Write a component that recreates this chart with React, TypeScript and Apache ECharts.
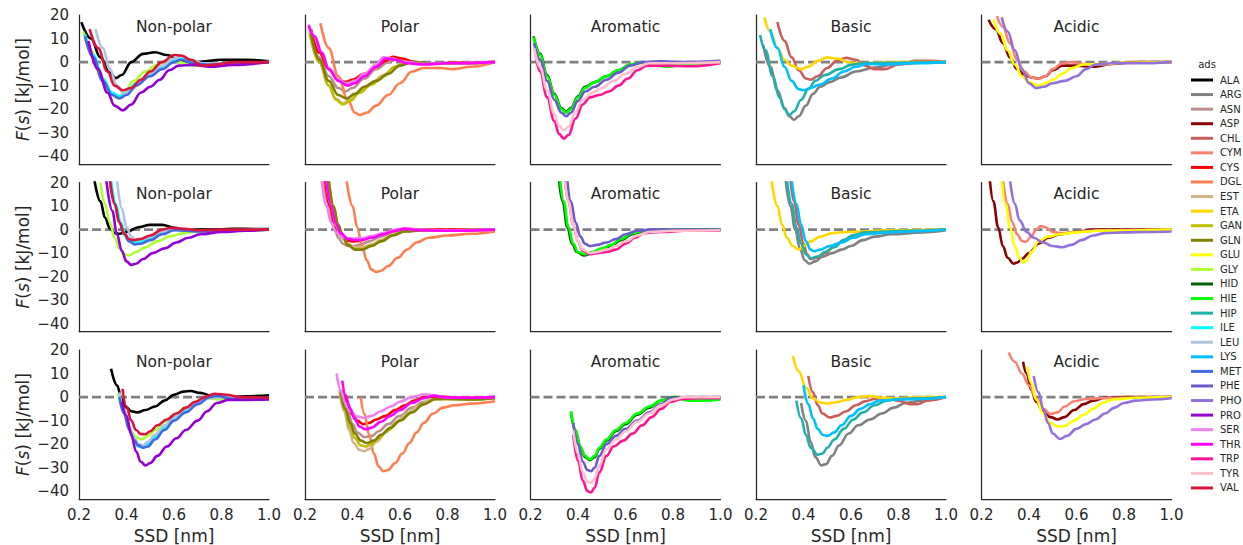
import React, { useEffect, useRef } from 'react';
import * as echarts from 'echarts';

const GROUPS = ['Non-polar', 'Polar', 'Aromatic', 'Basic', 'Acidic'];
const RESIDUES = ['ALA', 'ARG', 'ASN', 'ASP', 'CHL', 'CYM', 'CYS', 'DGL', 'EST', 'ETA', 'GAN', 'GLN', 'GLU', 'GLY', 'HID', 'HIE', 'HIP', 'ILE', 'LEU', 'LYS', 'MET', 'PHE', 'PHO', 'PRO', 'SER', 'THR', 'TRP', 'TYR', 'VAL'];
const COLORS = ['#000000', '#808080', '#bc8f8f', '#8b0000', '#cd5c5c', '#fa8072', '#ff0000', '#ff7f50', '#d2b48c', '#ffd700', '#bfbf00', '#808000', '#ffff00', '#adff2f', '#006400', '#00ff00', '#20b2aa', '#00ffff', '#b0c4de', '#00bfff', '#4169e1', '#6a5acd', '#9370db', '#9400d3', '#ee82ee', '#ff00ff', '#ff1493', '#ffc0cb', '#dc143c'];
// column (group) of each residue
const GROUP_OF = [0, 3, 1, 4, 3, 4, 1, 1, 1, 3, 1, 1, 4, 0, 2, 2, 3, 0, 0, 3, 0, 2, 4, 0, 1, 1, 2, 2, 0];
const X_TICKS = [0.2, 0.4, 0.6, 0.8, 1.0];
const Y_RANGE = [-43.3, 20];

// each residue: [row1, row2, row3] of [SSD nm, F kJ/mol]
const ALA = [
  [[0.21, 17], [0.25, 10], [0.29, 2], [0.33, -4.5], [0.355, -6.8], [0.38, -5.5], [0.42, 0], [0.47, 3.5], [0.52, 4.2], [0.57, 3], [0.63, 0.3], [0.7, 0], [0.8, 1], [0.9, 1], [1.0, 0.3]],
  [[0.265, 21], [0.29, 12], [0.31, 5], [0.33, 0.5], [0.35, -1.5], [0.37, -1.8], [0.4, -1], [0.45, 1], [0.5, 2], [0.55, 2], [0.6, 0.8], [0.65, 0], [0.75, 0], [0.85, 0.3], [1.0, 0.2]],
  [[0.335, 12], [0.36, 5], [0.38, -1], [0.4, -4.5], [0.42, -6], [0.445, -6.5], [0.48, -5.5], [0.52, -4], [0.56, -1.5], [0.6, 1], [0.64, 2.3], [0.67, 2.6], [0.71, 1.8], [0.76, 0.5], [0.82, -0.3], [0.9, 0.3], [1.0, 0.8]],
];
const ARG = [
  [[0.23, 7.5], [0.26, -2], [0.29, -12], [0.32, -19.5], [0.34, -23], [0.36, -24.5], [0.38, -23], [0.41, -18.5], [0.44, -13.5], [0.47, -10.5], [0.51, -8.5], [0.56, -6.5], [0.62, -4], [0.7, -2.3], [0.78, -1], [0.9, -0.3], [1.0, 0]],
  [[0.325, 21], [0.345, 10], [0.365, 0], [0.385, -8], [0.405, -13], [0.425, -14.5], [0.45, -13.5], [0.48, -11.5], [0.52, -10], [0.56, -8.5], [0.6, -7], [0.65, -4.5], [0.7, -3], [0.77, -2], [0.9, -1.2], [1.0, -0.3]],
  [[0.39, -2.5], [0.41, -10], [0.43, -19], [0.45, -25.5], [0.475, -29], [0.495, -28.5], [0.52, -25], [0.55, -20.5], [0.59, -15.5], [0.63, -12], [0.68, -9.5], [0.73, -7], [0.78, -4.5], [0.83, -2.5], [0.9, -1.5], [1.0, 0]],
];
const ASN = [
  [[0.22, 13], [0.26, 2], [0.3, -6], [0.34, -11], [0.37, -12.5], [0.4, -11], [0.45, -7], [0.5, -3], [0.55, 0], [0.58, 1], [0.63, 0.5], [0.7, -0.5], [0.85, -0.3], [1.0, 0]],
  [[0.28, 21], [0.3, 10], [0.32, 2], [0.34, -3.5], [0.36, -6], [0.38, -7], [0.4, -7], [0.43, -6.5], [0.47, -5], [0.52, -3], [0.57, -1], [0.62, 0], [0.7, -0.3], [1.0, 0]],
  [[0.36, 0], [0.38, -6], [0.4, -11.5], [0.42, -15], [0.45, -17], [0.48, -16.5], [0.51, -14.5], [0.55, -11.5], [0.6, -8], [0.65, -4.5], [0.7, -2], [0.75, -0.3], [0.85, -0.5], [1.0, 0]],
];
const ASP = [
  [[0.23, 18], [0.26, 14], [0.29, 8], [0.32, 2], [0.35, -3], [0.38, -5.5], [0.41, -6.5], [0.44, -7], [0.47, -6], [0.5, -3.5], [0.54, -1.5], [0.6, -1.5], [0.67, -2], [0.75, -0.8], [0.85, 0], [1.0, 0]],
  [[0.235, 21], [0.25, 12], [0.27, 1], [0.29, -7], [0.31, -12], [0.335, -14.5], [0.35, -14], [0.37, -12.5], [0.4, -10], [0.44, -6], [0.48, -3.5], [0.53, -2], [0.6, -1], [0.67, 0], [0.8, 0], [1.0, 0]],
  [[0.375, 15], [0.39, 10], [0.41, 3], [0.43, -2], [0.46, -6], [0.49, -8.5], [0.52, -9.5], [0.55, -8.5], [0.59, -5.5], [0.63, -3], [0.67, -1.5], [0.72, -0.3], [0.8, 0], [1.0, 0]],
];
const CHL = [
  [[0.29, 17], [0.32, 9], [0.35, 2], [0.38, -3.5], [0.41, -7], [0.43, -7.5], [0.46, -6], [0.5, -2.5], [0.54, 0.5], [0.58, 1.8], [0.62, 1], [0.66, -1.5], [0.7, -3], [0.74, -3], [0.8, -1], [0.87, 0.5], [0.93, 0.5], [1.0, 0]],
  [[0.345, 21], [0.36, 12], [0.38, 2], [0.4, -6], [0.415, -10.5], [0.43, -12.5], [0.455, -12], [0.49, -10], [0.53, -7], [0.57, -4.5], [0.61, -2.5], [0.66, -1.2], [0.75, -1], [0.85, -0.5], [1.0, 0]],
  [[0.42, 9], [0.44, 2], [0.46, -3.5], [0.48, -7], [0.51, -8.7], [0.54, -8], [0.58, -6], [0.62, -3.5], [0.66, -1.8], [0.7, -0.8], [0.75, -0.5], [0.8, -1.5], [0.85, -3], [0.88, -3], [0.92, -1.5], [1.0, 0]],
];
const CYM = [
  [[0.265, 19.5], [0.29, 15], [0.32, 8], [0.35, 1], [0.38, -4], [0.41, -6.5], [0.44, -7], [0.47, -6], [0.5, -3], [0.54, -0.5], [0.58, 0], [0.63, -0.8], [0.7, -1], [0.8, -0.3], [1.0, 0]],
  [[0.29, 21], [0.31, 11], [0.33, 3], [0.35, -2], [0.37, -4.8], [0.385, -5.3], [0.41, -3], [0.43, 0], [0.45, 1.5], [0.47, 1], [0.5, -1], [0.54, -1.5], [0.6, -1], [0.7, -0.3], [1.0, 0]],
  [[0.315, 19], [0.34, 15], [0.37, 10], [0.4, 5], [0.43, -0.5], [0.46, -5], [0.49, -7.2], [0.52, -6.5], [0.55, -4], [0.59, -1.8], [0.64, -0.8], [0.7, -0.5], [0.8, -0.3], [1.0, 0]],
];
const CYS = [
  [[0.225, 14], [0.26, 4], [0.3, -3], [0.34, -7.5], [0.37, -8.5], [0.4, -7.5], [0.45, -5], [0.5, -2], [0.54, 0.5], [0.57, 2.2], [0.61, 1.5], [0.66, 0], [0.72, -0.5], [0.85, -0.3], [1.0, 0]],
  [[0.285, 21], [0.305, 10], [0.325, 2], [0.345, -2], [0.37, -4.5], [0.4, -5], [0.43, -4.8], [0.47, -3.5], [0.52, -2], [0.57, -0.5], [0.62, 0.3], [0.7, 0], [1.0, 0]],
  [[0.36, 3], [0.38, -3], [0.4, -7.5], [0.42, -10], [0.445, -11.5], [0.47, -11], [0.5, -9.5], [0.54, -8], [0.58, -5.5], [0.62, -3.5], [0.66, -1.5], [0.7, 0], [0.75, 0.3], [0.85, -0.3], [1.0, 0]],
];
const DGL = [
  [[0.265, 16.5], [0.3, 6], [0.34, -6], [0.38, -16], [0.41, -21.5], [0.43, -22.5], [0.46, -21.5], [0.5, -18.5], [0.55, -14], [0.6, -9], [0.65, -4], [0.7, -2.5], [0.77, -2.5], [0.82, -3], [0.9, -2], [1.0, 0]],
  [[0.375, 21], [0.4, 10], [0.42, 1], [0.44, -7], [0.46, -13], [0.48, -17], [0.5, -18], [0.52, -17.5], [0.55, -15.5], [0.59, -12], [0.63, -8.5], [0.67, -5.5], [0.72, -3.5], [0.8, -2.5], [0.9, -1.8], [1.0, -0.8]],
  [[0.435, 0], [0.45, -7], [0.47, -16], [0.49, -24], [0.51, -29.5], [0.53, -31.5], [0.55, -31], [0.58, -28], [0.61, -24], [0.64, -19.5], [0.67, -15], [0.7, -11], [0.74, -7], [0.78, -4.5], [0.83, -3.5], [0.9, -2.8], [1.0, -1.8]],
];
const EST = [
  [[0.22, 12], [0.26, 0], [0.3, -10], [0.33, -15.5], [0.36, -17.5], [0.39, -16], [0.43, -12.5], [0.48, -9], [0.53, -5.5], [0.58, -2], [0.62, 0], [0.7, -0.5], [0.8, -0.5], [1.0, 0]],
  [[0.29, 21], [0.31, 10], [0.33, 2], [0.35, -3], [0.38, -6], [0.41, -7.5], [0.44, -7.5], [0.48, -6.3], [0.52, -4.5], [0.57, -2.2], [0.62, -0.6], [0.7, -0.3], [0.8, -0.3], [1.0, 0]],
  [[0.345, 3], [0.365, -6], [0.385, -14], [0.405, -19.5], [0.43, -22.5], [0.45, -23], [0.47, -22], [0.5, -19], [0.54, -15], [0.58, -11], [0.63, -7], [0.68, -3.5], [0.73, -1], [0.8, -0.8], [0.9, -1], [1.0, -0.5]],
];
const ETA = [
  [[0.235, 19], [0.26, 13], [0.29, 6], [0.32, 1], [0.35, -1.5], [0.39, -3], [0.42, -2], [0.46, 0.5], [0.5, 2], [0.54, 1.5], [0.6, -0.3], [0.66, -0.5], [0.75, 0], [0.85, 0], [1.0, 0]],
  [[0.265, 21], [0.29, 10], [0.31, 2], [0.33, -3.5], [0.355, -7], [0.38, -8.5], [0.4, -7], [0.43, -5], [0.47, -3], [0.52, -1.5], [0.58, -1], [0.65, -0.8], [0.75, -0.3], [1.0, 0]],
  [[0.355, 17.5], [0.38, 11], [0.41, 4], [0.44, -0.5], [0.47, -2.3], [0.5, -2.7], [0.54, -2.2], [0.58, -1.2], [0.63, 0], [0.68, 0.4], [0.73, -0.3], [0.8, -0.5], [0.9, 0], [1.0, 0]],
];
const GAN = [
  [[0.22, 12.5], [0.26, 0], [0.3, -10], [0.33, -16], [0.36, -18], [0.39, -16.5], [0.43, -13], [0.48, -9.5], [0.53, -6], [0.58, -2], [0.62, 0], [0.7, -0.5], [0.8, -0.5], [1.0, 0]],
  [[0.3, 21], [0.32, 10], [0.34, 2], [0.36, -3], [0.38, -6.3], [0.41, -8.2], [0.44, -8.2], [0.48, -6.8], [0.52, -4.8], [0.57, -2.3], [0.62, -0.6], [0.7, -0.3], [0.8, -0.3], [1.0, 0]],
  [[0.35, 2], [0.37, -6], [0.39, -13], [0.41, -17.5], [0.435, -20.5], [0.455, -21], [0.48, -20], [0.51, -17.5], [0.55, -14], [0.6, -10], [0.65, -6.5], [0.7, -3], [0.75, -0.8], [0.8, -0.8], [0.9, -1], [1.0, -0.5]],
];
const GLN = [
  [[0.225, 12], [0.26, 1], [0.3, -8], [0.34, -14], [0.375, -15.5], [0.41, -13.5], [0.45, -10.5], [0.5, -8], [0.55, -5], [0.6, -1.5], [0.65, 0], [0.72, -0.5], [0.85, -0.5], [1.0, 0]],
  [[0.3, 21], [0.32, 10], [0.34, 2], [0.36, -3], [0.38, -6.5], [0.41, -8.5], [0.44, -8.5], [0.48, -7], [0.52, -5], [0.57, -2.5], [0.62, -0.8], [0.7, -0.3], [0.8, -0.3], [1.0, 0]],
  [[0.35, 2], [0.37, -5], [0.39, -11], [0.41, -15.5], [0.435, -18.5], [0.46, -19.5], [0.49, -18.5], [0.52, -16], [0.56, -13], [0.6, -10], [0.65, -6.5], [0.7, -3], [0.75, -0.8], [0.8, -0.8], [0.9, -1], [1.0, -0.5]],
];
const GLU = [
  [[0.25, 18], [0.28, 12], [0.31, 5], [0.34, -1], [0.37, -6], [0.4, -8.5], [0.44, -10], [0.47, -9], [0.5, -7.5], [0.54, -5], [0.58, -2.5], [0.63, -1], [0.7, -0.8], [0.8, -0.3], [1.0, 0]],
  [[0.285, 21], [0.3, 11], [0.32, 1], [0.34, -7], [0.36, -12], [0.375, -14], [0.39, -13], [0.41, -9.5], [0.44, -5], [0.48, -3], [0.53, -2], [0.6, -1.2], [0.7, -0.5], [1.0, 0]],
  [[0.393, 13], [0.41, 6], [0.43, -1], [0.46, -7], [0.49, -11], [0.52, -12.5], [0.55, -12.3], [0.59, -10], [0.63, -7.5], [0.67, -5], [0.71, -2.5], [0.75, -1], [0.85, -0.3], [1.0, 0]],
];
const GLY = [
  [[0.218, 13], [0.25, 5], [0.29, -6], [0.33, -13], [0.36, -15], [0.39, -13], [0.43, -8], [0.48, -4], [0.53, -1], [0.57, 0.5], [0.62, 0], [0.68, -1.5], [0.75, -1.5], [0.85, -0.5], [1.0, 0]],
  [[0.29, 20], [0.31, 11], [0.33, 3], [0.35, -3.5], [0.37, -8], [0.39, -10.5], [0.41, -11], [0.44, -9.5], [0.48, -7.5], [0.53, -5], [0.58, -3], [0.64, -1.5], [0.7, -0.8], [0.8, -0.5], [1.0, 0]],
  [[0.365, 1.5], [0.38, -4], [0.4, -10], [0.42, -14.5], [0.44, -17], [0.465, -18], [0.49, -16.5], [0.52, -14], [0.56, -10.5], [0.6, -7.5], [0.65, -4.5], [0.7, -2], [0.74, -0.5], [0.8, -1], [0.9, -1], [1.0, -0.8]],
];
const HID = [
  [[0.213, 11], [0.24, 3.5], [0.27, -5.5], [0.3, -13.5], [0.33, -19.5], [0.35, -21], [0.37, -19.5], [0.4, -14.5], [0.43, -10.5], [0.47, -8.5], [0.52, -6], [0.57, -3.5], [0.62, -1.2], [0.67, -0.3], [0.75, -1], [0.85, -0.8], [1.0, 0]],
  [[0.32, 21], [0.335, 12], [0.355, 1], [0.375, -6], [0.395, -9.5], [0.425, -11], [0.46, -10], [0.5, -8.5], [0.54, -7], [0.58, -4.5], [0.63, -2], [0.68, -0.5], [0.8, 0], [1.0, 0]],
  [[0.37, -6.5], [0.39, -14.5], [0.41, -21.5], [0.43, -25.5], [0.45, -26.8], [0.47, -25.5], [0.49, -22], [0.52, -18.5], [0.56, -14.5], [0.6, -11.5], [0.65, -7.5], [0.7, -4.5], [0.75, -1.5], [0.8, 0], [0.9, -0.5], [1.0, -0.5]],
];
const HIE = [
  [[0.213, 10.5], [0.24, 3], [0.27, -6], [0.3, -14], [0.33, -20], [0.35, -21.5], [0.37, -20], [0.4, -15], [0.43, -11], [0.47, -8.5], [0.52, -6], [0.57, -3.5], [0.62, -1], [0.67, 0], [0.72, -1], [0.77, -2], [0.85, -1], [1.0, 0]],
  [[0.325, 21], [0.34, 12], [0.36, 1], [0.38, -6], [0.4, -9.5], [0.43, -10.5], [0.46, -9.5], [0.5, -8], [0.54, -6.5], [0.58, -4], [0.63, -1.5], [0.68, -0.3], [0.8, 0], [1.0, 0]],
  [[0.37, -6], [0.39, -14], [0.41, -21], [0.43, -25], [0.45, -26.5], [0.47, -25], [0.49, -21.5], [0.52, -18], [0.56, -14], [0.6, -11], [0.65, -7], [0.7, -4], [0.75, -1.5], [0.8, -0.3], [0.87, -1.5], [0.93, -1.5], [1.0, -1]],
];
const HIP = [
  [[0.217, 11.5], [0.24, 5], [0.27, -6], [0.3, -15], [0.32, -20], [0.34, -22.5], [0.36, -21], [0.39, -16], [0.42, -11.5], [0.45, -8], [0.49, -5.5], [0.55, -3], [0.6, -1.2], [0.65, -0.5], [0.75, -0.3], [1.0, 0]],
  [[0.33, 21], [0.35, 11], [0.37, 1], [0.39, -6], [0.41, -10.5], [0.43, -12.2], [0.46, -11.5], [0.49, -9.5], [0.53, -7.5], [0.57, -4.5], [0.61, -2.3], [0.66, -1.2], [0.75, -0.8], [0.85, -0.5], [1.0, 0]],
  [[0.37, -1.5], [0.39, -9], [0.41, -16], [0.43, -21.5], [0.46, -24.5], [0.48, -24], [0.5, -21.5], [0.53, -18], [0.57, -13.5], [0.61, -9.5], [0.65, -6.5], [0.7, -3.5], [0.75, -1.5], [0.8, -0.8], [0.9, -0.5], [1.0, 0]],
];
const ILE = [
  [[0.225, 12], [0.26, 3], [0.3, -7], [0.34, -13], [0.37, -14.5], [0.4, -13], [0.44, -9], [0.5, -5.5], [0.55, -2.5], [0.6, 1], [0.63, 1.5], [0.68, 0], [0.75, -1], [0.85, -0.5], [1.0, 0]],
  [[0.335, 21], [0.355, 11], [0.375, 3], [0.395, -2], [0.415, -4.5], [0.435, -5.5], [0.46, -5], [0.5, -3.5], [0.55, -1.2], [0.6, 0.3], [0.65, 0], [0.7, -0.5], [0.8, -0.3], [1.0, 0]],
  [[0.37, 1], [0.39, -6], [0.41, -13], [0.43, -18], [0.45, -21], [0.47, -21.5], [0.49, -20], [0.52, -17], [0.56, -13], [0.6, -9], [0.65, -5.5], [0.7, -2.5], [0.75, 0], [0.78, 0.5], [0.85, -0.5], [1.0, -0.5]],
];
const LEU = [
  [[0.27, 14], [0.3, 6], [0.33, -3], [0.36, -10], [0.39, -13.5], [0.42, -12], [0.46, -8], [0.5, -5], [0.55, -1.5], [0.6, 1.5], [0.635, 2.5], [0.67, 1], [0.72, -0.5], [0.8, -0.5], [1.0, 0]],
  [[0.36, 21], [0.38, 9], [0.4, 1], [0.42, -3], [0.44, -4.5], [0.47, -4], [0.5, -3], [0.55, -0.8], [0.6, 0.5], [0.65, 0.2], [0.7, -0.3], [0.8, -0.3], [1.0, 0]],
  [[0.37, 2], [0.39, -5], [0.41, -12], [0.43, -17], [0.45, -20], [0.47, -20.5], [0.49, -19], [0.52, -16], [0.56, -12], [0.6, -8.5], [0.65, -5], [0.7, -2.5], [0.75, -0.5], [0.8, 0], [0.9, -0.5], [1.0, -0.5]],
];
const LYS = [
  [[0.26, 14], [0.29, 6], [0.32, -2], [0.35, -8], [0.38, -11.5], [0.4, -12], [0.43, -11], [0.47, -9.5], [0.52, -7], [0.57, -4], [0.62, -2], [0.67, -0.8], [0.75, -1], [0.85, -0.5], [1.0, 0]],
  [[0.35, 21], [0.37, 11], [0.39, 2], [0.41, -5], [0.43, -8.5], [0.445, -9.2], [0.47, -8.5], [0.51, -7], [0.56, -5.5], [0.61, -3.5], [0.66, -2], [0.72, -1.5], [0.85, -0.8], [1.0, 0]],
  [[0.4, 5], [0.42, -3], [0.44, -9], [0.46, -13.5], [0.48, -16], [0.5, -16.5], [0.53, -15], [0.56, -12], [0.6, -8], [0.64, -5], [0.68, -3], [0.72, -1.5], [0.8, -1], [0.9, -0.8], [1.0, 0]],
];
const MET = [
  [[0.225, 11], [0.26, 2], [0.3, -8], [0.34, -14], [0.37, -15.5], [0.4, -14], [0.44, -10], [0.5, -6], [0.55, -3], [0.6, 0], [0.63, 1], [0.68, -0.5], [0.75, -1.2], [0.85, -0.5], [1.0, 0]],
  [[0.33, 21], [0.35, 11], [0.37, 3], [0.39, -2], [0.41, -5], [0.435, -6.3], [0.46, -6], [0.5, -4.5], [0.55, -2], [0.6, -0.3], [0.65, -0.5], [0.7, -0.8], [0.8, -0.5], [1.0, 0]],
  [[0.37, 0], [0.39, -7], [0.41, -13.5], [0.43, -18], [0.45, -20.5], [0.47, -21.5], [0.49, -21], [0.52, -18], [0.56, -14], [0.6, -10], [0.65, -6.5], [0.7, -3], [0.75, 0], [0.78, 0.5], [0.85, -0.8], [1.0, -0.8]],
];
const PHE = [
  [[0.215, 8], [0.24, 1], [0.27, -8], [0.3, -16], [0.33, -21.5], [0.35, -23], [0.37, -21.5], [0.4, -16.5], [0.43, -12.5], [0.47, -10.5], [0.52, -7.5], [0.57, -4.5], [0.62, -1.5], [0.67, 0], [0.75, 0.3], [0.85, 0], [1.0, 0.5]],
  [[0.355, 21], [0.37, 12], [0.39, 3], [0.41, -3], [0.43, -6], [0.45, -7], [0.48, -6.5], [0.52, -5.5], [0.56, -4], [0.6, -2], [0.65, -0.5], [0.7, 0], [0.8, 0], [1.0, 0]],
  [[0.38, -11], [0.4, -20], [0.42, -27.5], [0.44, -31], [0.455, -31.5], [0.47, -30], [0.49, -25], [0.52, -20], [0.56, -16.5], [0.6, -13.5], [0.65, -10], [0.7, -6.5], [0.75, -3], [0.79, -0.5], [0.85, 0], [1.0, 0]],
];
const PHO = [
  [[0.285, 19], [0.31, 13], [0.34, 5], [0.37, -3], [0.4, -9], [0.43, -11], [0.46, -10.5], [0.5, -9], [0.55, -8], [0.6, -6], [0.64, -3], [0.68, -1], [0.75, -0.5], [0.85, -0.5], [1.0, 0]],
  [[0.32, 21], [0.34, 11], [0.36, 4], [0.39, -1], [0.42, -3.5], [0.46, -5.5], [0.5, -7], [0.54, -7.5], [0.58, -6.5], [0.62, -4.5], [0.67, -2.5], [0.72, -1.5], [0.8, -1.2], [0.9, -1], [1.0, -0.8]],
  [[0.42, 9], [0.44, 2], [0.46, -5], [0.48, -11], [0.5, -15.5], [0.53, -17.8], [0.56, -16.5], [0.6, -13.5], [0.64, -11.5], [0.68, -9.5], [0.72, -7], [0.76, -4.5], [0.8, -2.5], [0.85, -1.5], [0.92, -1], [1.0, -0.5]],
];
const PRO = [
  [[0.24, 9], [0.28, -3], [0.32, -13], [0.35, -18.5], [0.385, -20.5], [0.42, -18], [0.46, -13], [0.5, -10.5], [0.54, -7.5], [0.58, -3.5], [0.62, -1.5], [0.68, -1.2], [0.75, -2], [0.85, -1.2], [1.0, 0]],
  [[0.315, 21], [0.34, 8], [0.36, -2], [0.38, -9], [0.4, -13.5], [0.42, -15], [0.44, -14.5], [0.47, -12.5], [0.51, -10], [0.56, -8], [0.61, -5.5], [0.66, -3.5], [0.71, -2], [0.8, -1], [0.9, -0.5], [1.0, 0]],
  [[0.38, -2], [0.4, -8], [0.42, -16], [0.44, -23], [0.46, -27.5], [0.48, -29], [0.5, -28], [0.53, -25], [0.57, -21], [0.61, -17.5], [0.65, -14], [0.7, -10], [0.74, -6], [0.78, -2.5], [0.83, -1.2], [0.9, -1.2], [1.0, -1]],
];
const SER = [
  [[0.215, 16], [0.24, 11], [0.27, 4], [0.3, -2.5], [0.34, -7.5], [0.375, -9], [0.41, -8], [0.45, -5], [0.5, -1], [0.53, 2], [0.57, 1.5], [0.62, 0], [0.7, -0.8], [0.8, -0.5], [1.0, 0]],
  [[0.27, 21], [0.29, 10], [0.31, 3], [0.33, -1], [0.36, -3.2], [0.4, -3.8], [0.44, -3.6], [0.48, -2.8], [0.53, -1.5], [0.58, 0], [0.62, 0.5], [0.68, 0], [0.8, -0.3], [1.0, 0]],
  [[0.333, 10], [0.35, 3], [0.37, -2.5], [0.39, -6], [0.42, -8.3], [0.45, -8.8], [0.48, -8], [0.52, -6], [0.56, -4], [0.6, -2], [0.65, 0], [0.7, 1.2], [0.74, 0.8], [0.8, -0.3], [0.9, -0.3], [1.0, 0]],
];
const THR = [
  [[0.215, 15.5], [0.24, 11], [0.27, 4], [0.3, -3], [0.34, -8], [0.38, -10], [0.41, -9], [0.45, -6], [0.5, -2], [0.54, 1.5], [0.58, 1], [0.63, -0.5], [0.7, -1], [0.8, -0.5], [1.0, 0]],
  [[0.29, 21], [0.31, 10], [0.33, 2.5], [0.35, -1.5], [0.38, -4], [0.41, -4.5], [0.44, -4.3], [0.48, -3.5], [0.53, -2], [0.58, -0.5], [0.62, 0.3], [0.68, -0.3], [0.8, -0.5], [1.0, 0]],
  [[0.357, 7], [0.37, 1], [0.39, -5], [0.41, -9.5], [0.43, -12.5], [0.455, -13.7], [0.48, -13], [0.52, -10.5], [0.56, -8], [0.6, -5.5], [0.65, -2.5], [0.7, -0.5], [0.74, 0.5], [0.8, -0.2], [0.9, -0.3], [1.0, 0]],
];
const TRP = [
  [[0.22, 4], [0.24, -4], [0.27, -15], [0.3, -25], [0.32, -30.5], [0.34, -32.5], [0.36, -31], [0.39, -24], [0.42, -18], [0.45, -15], [0.49, -14], [0.53, -12.5], [0.57, -10], [0.61, -7], [0.65, -3.5], [0.69, -1.5], [0.77, -1.5], [0.88, -1.8], [1.0, -0.5]],
  [[0.345, 21], [0.36, 12], [0.38, 2], [0.4, -5], [0.42, -9], [0.45, -10.5], [0.48, -10], [0.52, -9.5], [0.56, -8.5], [0.6, -6], [0.64, -3.5], [0.68, -1.5], [0.75, -1], [0.85, -0.5], [1.0, -0.5]],
  [[0.38, -16], [0.4, -27], [0.42, -35.5], [0.44, -40], [0.455, -40.5], [0.47, -38.5], [0.49, -32], [0.52, -25], [0.55, -21], [0.59, -18.5], [0.63, -15.5], [0.67, -12], [0.71, -8.5], [0.75, -5], [0.79, -2], [0.84, -0.8], [0.9, -0.5], [1.0, -0.5]],
];
const TYR = [
  [[0.215, 6], [0.24, -2], [0.27, -12], [0.3, -22], [0.32, -27], [0.34, -29], [0.36, -27.5], [0.39, -21], [0.42, -16], [0.46, -13], [0.5, -11], [0.55, -8], [0.6, -5], [0.65, -2], [0.7, -0.5], [0.8, -0.5], [1.0, 0]],
  [[0.345, 21], [0.36, 12], [0.38, 2], [0.4, -5], [0.42, -8.5], [0.45, -10], [0.48, -9.5], [0.52, -8.5], [0.56, -7], [0.6, -5], [0.65, -2.5], [0.7, -1], [0.8, -0.5], [1.0, -0.3]],
  [[0.38, -14], [0.4, -24], [0.42, -32], [0.44, -36], [0.455, -36.5], [0.47, -34.5], [0.49, -29], [0.52, -22], [0.56, -18], [0.6, -14.5], [0.65, -10.5], [0.7, -7], [0.75, -3.5], [0.8, -1], [0.85, 0], [1.0, 0]],
];
const VAL = [
  [[0.245, 14], [0.28, 6], [0.32, -4], [0.35, -10], [0.385, -12], [0.42, -11], [0.46, -7.5], [0.5, -4], [0.55, 0], [0.6, 3], [0.63, 2.8], [0.67, 1], [0.72, -1.5], [0.78, -1], [0.85, 0], [1.0, 0]],
  [[0.33, 21], [0.35, 11], [0.37, 3], [0.39, -1.5], [0.41, -4], [0.43, -4.5], [0.46, -4], [0.5, -2.5], [0.55, 0], [0.59, 0.8], [0.64, 0.3], [0.7, -0.3], [0.8, 0], [0.9, 0], [1.0, 0]],
  [[0.383, 3.5], [0.4, -4], [0.42, -10], [0.44, -14], [0.46, -15.7], [0.48, -15.8], [0.5, -14.5], [0.53, -12], [0.57, -9.5], [0.61, -7], [0.65, -4.5], [0.69, -2], [0.73, 0], [0.77, 1.4], [0.82, 1], [0.88, 0], [1.0, -0.3]],
];

const CURVES = [ALA, ARG, ASN, ASP, CHL, CYM, CYS, DGL, EST, ETA, GAN, GLN, GLU, GLY, HID, HIE, HIP, ILE, LEU, LYS, MET, PHE, PHO, PRO, SER, THR, TRP, TYR, VAL];

const FONT = 'DejaVu Sans';
const INK = '#262626';
const LEFTS = [79, 305, 530.5, 756, 981.5];
const TOPS = [15, 182.5, 350];
const GW = 190;
const GH = 149;

function buildOption() {
  const grid: any[] = [];
  const xAxis: any[] = [];
  const yAxis: any[] = [];
  const series: any[] = [];
  const graphic: any[] = [];
  for (let r = 0; r < 3; r++) {
    for (let c = 0; c < 5; c++) {
      const idx = r * 5 + c;
      grid.push({ left: LEFTS[c], top: TOPS[r], width: GW, height: GH, containLabel: false });
      xAxis.push({
        type: 'value', gridIndex: idx, min: X_TICKS[0], max: X_TICKS[X_TICKS.length - 1], interval: 0.2,
        axisLine: { show: true, onZero: false, lineStyle: { color: INK, width: 1.25 } },
        axisTick: { show: false }, splitLine: { show: false },
        axisLabel: { show: r === 2, margin: 8, fontSize: 15, fontFamily: FONT, color: INK, formatter: (v: number) => v.toFixed(1) },
        name: r === 2 ? 'SSD [nm]' : '', nameLocation: 'middle', nameGap: 28,
        nameTextStyle: { fontSize: 17, fontFamily: FONT, color: INK },
      });
      yAxis.push({
        type: 'value', gridIndex: idx, min: Y_RANGE[0], max: Y_RANGE[1],
        axisLine: { show: true, onZero: false, lineStyle: { color: INK, width: 1.25 } },
        axisTick: { show: false }, splitLine: { show: false },
        axisLabel: {
          show: c === 0, margin: 10, fontSize: 15, fontFamily: FONT, color: INK,
          formatter: (v: number) => (Math.abs(v % 10) > 1e-6 ? '' : v < 0 ? '\u2212' + Math.abs(v) : String(v)),
        },
        name: c === 0 ? '{it|F}({it|s}) [kJ/mol]' : '', nameLocation: 'middle', nameGap: 48,
        nameTextStyle: {
          fontSize: 17, fontFamily: FONT, color: INK,
          rich: { it: { fontStyle: 'italic', fontSize: 17, fontFamily: FONT, color: INK } },
        },
      });
      series.push({
        type: 'line', xAxisIndex: idx, yAxisIndex: idx, data: [[0.2, 0], [1.0, 0]],
        symbol: 'none', silent: true, z: 1,
        lineStyle: { color: '#808080', width: 2.6, type: [9, 4] },
      });
      graphic.push({
        type: 'text', x: LEFTS[c] + GW / 2, y: TOPS[r] + 11.7,
        style: { text: GROUPS[c], font: `15.5px "${FONT}"`, fill: INK, align: 'center', verticalAlign: 'middle' },
      });
    }
  }
  RESIDUES.forEach((name, i) => {
    for (let r = 0; r < 3; r++) {
      const idx = r * 5 + GROUP_OF[i];
      series.push({
        name, type: 'line', xAxisIndex: idx, yAxisIndex: idx, data: CURVES[i][r],
        smooth: 0.4, smoothMonotone: 'x', symbol: 'none', showSymbol: false, z: 2,
        color: COLORS[i], itemStyle: { color: COLORS[i] },
        lineStyle: { color: COLORS[i], width: 2.6 },
      });
    }
  });
  graphic.push({
    type: 'text', x: 1207, y: 64,
    style: { text: 'ads', font: `10px "${FONT}"`, fill: INK, align: 'center', verticalAlign: 'middle' },
  });
  return {
    animation: false,
    backgroundColor: '#ffffff',
    grid, xAxis, yAxis, series, graphic,
    legend: {
      orient: 'vertical', left: 1191, top: 74, padding: 0, icon: 'rect', itemWidth: 22, itemHeight: 3, itemGap: 2.57,
      selectedMode: false, data: RESIDUES,
      textStyle: { fontSize: 10, lineHeight: 12, fontFamily: FONT, color: INK, padding: [0, 0, 0, 2] },
    },
  };
}

export default function App() {
  const ref = useRef<HTMLDivElement>(null);
  useEffect(() => {
    if (!ref.current) return;
    const chart = echarts.init(ref.current, undefined, { renderer: 'svg' });
    chart.setOption(buildOption() as any);
    return () => chart.dispose();
  }, []);
  return <div ref={ref} style={{ position: 'fixed', left: 0, top: 0, width: 1243, height: 545, background: '#fff' }} />;
}
